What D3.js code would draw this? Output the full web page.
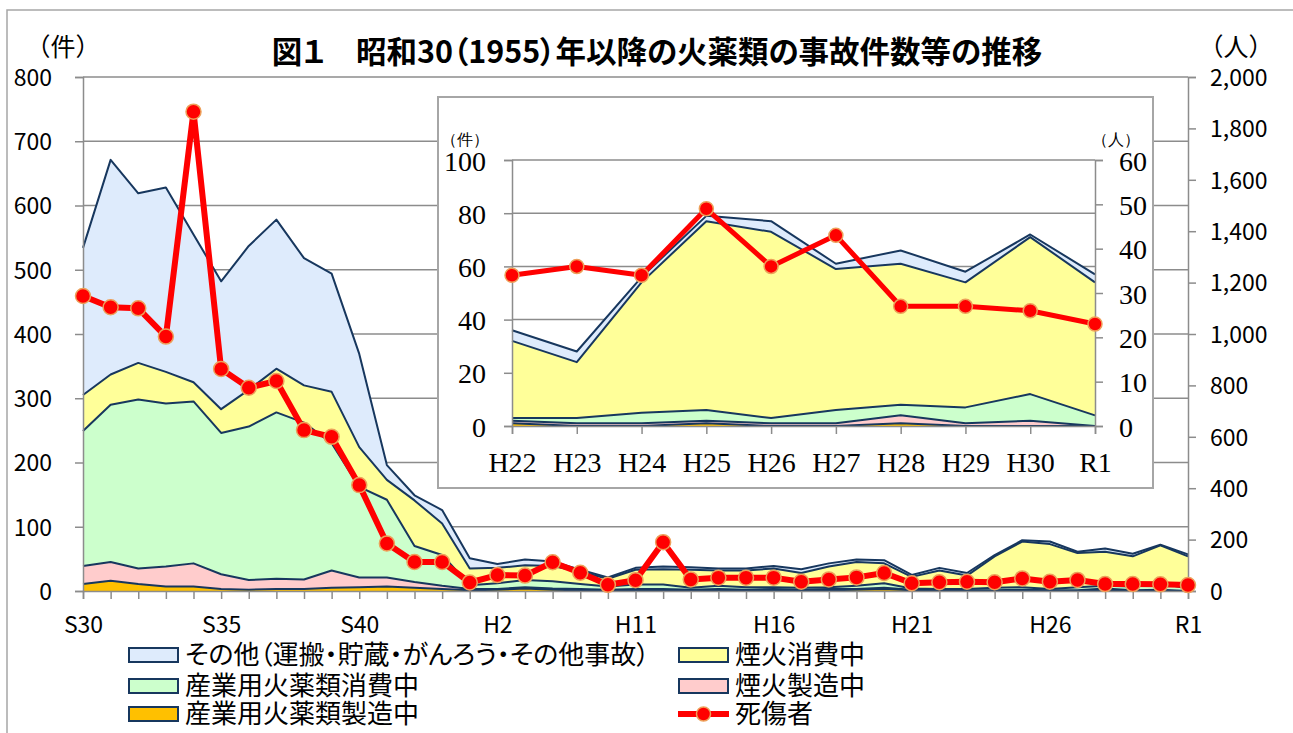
<!DOCTYPE html>
<html lang="ja">
<head>
<meta charset="UTF-8">
<title>火薬類の事故件数等の推移</title>
<script src="https://cdn.jsdelivr.net/npm/d3@7/dist/d3.min.js"></script>
<style>
  body{margin:0;background:#fff}
  svg{display:block}
  text{font-family:"Noto Sans CJK JP","Noto Sans",sans-serif}
  .inset text{font-family:"Liberation Serif","DejaVu Serif",serif}
  .palt{font-feature-settings:"palt"}
</style>
</head>
<body>
<div class="chart"></div>
<script>
// 年（41区分）
const categories=['S30','S31','S32','S33','S34','S35','S36','S37','S38','S39','S40',
  'S45','S50','S55','S60','H2','H7','H8','H9','H10',
  'H11','H12','H13','H14','H15','H16','H17','H18','H19','H20',
  'H21','H22','H23','H24','H25','H26','H27','H28','H29','H30','R1']
const tickLabels=['S30','S35','S40','H2','H11','H16','H21','H26','R1']

// 事故件数（件）
const manuf=[11,16,11,7,7,3,2,3,3,5,6,7,5,3, 1,2,4,2,1,1,1,1,1,1,1,1,1,1,2,3,1, 1,0,0,1,0,0,1,0,0,0]
const fwManuf=[28,29,24,31,36,23,15,16,15,27,15,14,9,5, 2,1,2,2,2,1,2,2,1,2,1,2,1,2,1,2,1, 1,1,1,1,1,1,3,1,2,0]
const indUse=[210,245,263,254,252,220,239,259,244,198,141,121,56,48, 6,9,11,11,8,5,7,7,3,5,4,3,3,3,5,7,2, 1,2,4,4,2,5,4,6,10,4]
const fwUse=[56,47,57,49,30,37,57,68,58,80,62,31,71,49, 26,24,23,24,19,12,23,24,28,24,26,29,23,32,37,31,18, 29,21,49,71,70,53,53,47,59,50]
const other=[229,334,264,287,230,199,224,232,198,184,145,23,8,21, 16,6,9,7,3,2,3,4,4,3,3,4,6,5,4,5,3, 4,4,2,2,4,2,5,4,1,3]
// 死傷者（人）
const casualties=[1148,1104,1100,990,1865,864,791,817,626,600,412,185,113,113, 33,62,60,112,71,24,42,190,45,52,52,52,36,45,53,70,30, 34,36,34,49,36,43,27,27,26,23]

const insetStart=31  // H22〜R1

const keys=['manuf','fwManuf','indUse','fwUse','other']
const colors={manuf:'#ffc000',fwManuf:'#ffcccc',indUse:'#ccffcc',fwUse:'#ffff99',other:'#deebfc'}
const names={other:'その他（運搬・貯蔵・がんろう・その他事故）',fwUse:'煙火消費中',indUse:'産業用火薬類消費中',
  fwManuf:'煙火製造中',manuf:'産業用火薬類製造中'}
const navy='#17375e', gray='#8c8c8c'

const table=categories.map((c,i)=>({cat:c,manuf:manuf[i],fwManuf:fwManuf[i],indUse:indUse[i],
  fwUse:fwUse[i],other:other[i],cas:casualties[i]}))

const W=1293,H=733
const svg=d3.select('.chart').append('svg').attr('width',W).attr('height',H)
svg.append('rect').attr('width',W).attr('height',H).attr('fill','#fff')
// 外枠
svg.append('rect').attr('x',7).attr('y',10).attr('width',1320).attr('height',760)
  .attr('fill','none').attr('stroke','#a6a6a6').attr('stroke-width',1.5)

function panel(g,rows,o){
  const x=d3.scalePoint().domain(rows.map(d=>d.cat)).range([o.x0,o.x1])
  const yL=d3.scaleLinear().domain([0,o.maxL]).range([o.y0,o.y1])
  const yR=d3.scaleLinear().domain([0,o.maxR]).range([o.y0,o.y1])
  // grid
  g.append('g').selectAll('line').data(d3.range(o.stepL,o.maxL+1,o.stepL)).join('line')
    .attr('x1',o.x0).attr('x2',o.x1).attr('y1',d=>yL(d)).attr('y2',d=>yL(d))
    .attr('stroke',gray).attr('stroke-width',1.5)
  // stacked areas
  const series=d3.stack().keys(keys)(rows)
  const area=d3.area().x(d=>x(d.data.cat)).y0(d=>yL(d[0])).y1(d=>yL(d[1]))
  const top=d3.line().x(d=>x(d.data.cat)).y(d=>yL(d[1]))
  g.append('g').selectAll('path').data(series).join('path')
    .attr('d',area).attr('fill',d=>colors[d.key])
  g.append('g').selectAll('path').data(series).join('path')
    .attr('d',top).attr('fill','none').attr('stroke',navy).attr('stroke-width',2).attr('stroke-linejoin','round')
  // axes
  const ax=d3.axisBottom(x).tickSize(o.tick).tickFormat(d=>o.labelAll||tickLabels.includes(d)?d:'')
  const gx=g.append('g').attr('transform',`translate(0,${o.y0})`).call(ax)
  const gl=g.append('g').attr('transform',`translate(${o.x0},0)`)
    .call(d3.axisLeft(yL).tickValues(d3.range(0,o.maxL+1,o.stepL)).tickSize(o.tick).tickFormat(o.fmtL))
  const gr=g.append('g').attr('transform',`translate(${o.x1},0)`)
    .call(d3.axisRight(yR).tickValues(d3.range(0,o.maxR+1,o.stepR)).tickSize(o.tick).tickFormat(o.fmtR))
  ;[gx,gl,gr].forEach(a=>{
    a.selectAll('path,line').attr('stroke',gray).attr('stroke-width',1.5)
    a.selectAll('text').attr('fill','#000').style('font-size',o.fs+'px')
  })
  gx.selectAll('text').attr('dy',null).attr('y',o.xLabelY)
  gl.selectAll('text').attr('dy','0.36em').attr('x',-o.lPad)
  gr.selectAll('text').attr('dy','0.36em').attr('x',o.rPad)
  // casualties
  g.append('path').datum(rows)
    .attr('d',d3.line().x(d=>x(d.cat)).y(d=>yR(d.cas)))
    .attr('fill','none').attr('stroke','#ff0000').attr('stroke-width',o.lw).attr('stroke-linejoin','round')
  g.append('g').selectAll('circle').data(rows).join('circle')
    .attr('cx',d=>x(d.cat)).attr('cy',d=>yR(d.cas)).attr('r',o.r)
    .attr('fill','#ff0000').attr('stroke','#eda05a').attr('stroke-width',1.5)
}

// main chart
const main=svg.append('g')
panel(main,table,{x0:83,x1:1188,y0:591,y1:77,maxL:800,stepL:100,maxR:2000,stepR:200,
  tick:8,fs:23,xLabelY:42,lPad:31,rPad:22,lw:6,r:7.5,fmtL:d3.format('d'),fmtR:d3.format(',')})

svg.append('text').attr('x',63).attr('y',56).attr('text-anchor','middle').style('font-size','25px').text('（件）')
svg.append('text').attr('x',1236).attr('y',56).attr('text-anchor','middle').style('font-size','25px').text('（人）')
svg.append('text').attr('class','palt').attr('x',657).attr('y',63).attr('text-anchor','middle')
  .style('font-size','30.5px').style('font-weight','bold').text('図１　昭和30（1955）年以降の火薬類の事故件数等の推移')

// inset chart
const inset=svg.append('g').attr('class','inset')
inset.append('rect').attr('x',438).attr('y',97).attr('width',715).attr('height',391)
  .attr('fill','#fff').attr('stroke','#a6a6a6').attr('stroke-width',2)
panel(inset,table.slice(insetStart),{x0:512,x1:1095,y0:426,y1:160,maxL:100,stepL:20,maxR:60,stepR:10,
  tick:8,fs:28,xLabelY:46,lPad:26,rPad:24,lw:5,r:7,labelAll:true,fmtL:d3.format('d'),fmtR:d3.format('d')})
inset.append('text').attr('x',465).attr('y',145).attr('text-anchor','middle').style('font-size','16px').text('（件）')
inset.append('text').attr('x',1116).attr('y',145).attr('text-anchor','middle').style('font-size','16px').text('（人）')

// legend
const legend=svg.append('g')
const legItems=[
  {key:'other',x:128,y:655},{key:'indUse',x:128,y:686},{key:'manuf',x:128,y:714},
  {key:'fwUse',x:678,y:655},{key:'fwManuf',x:678,y:686},{key:'cas',x:678,y:714}]
legItems.forEach(it=>{
  const g=legend.append('g').attr('transform',`translate(${it.x},${it.y})`)
  if(it.key==='cas'){
    g.append('line').attr('x1',0).attr('x2',51).attr('stroke','#ff0000').attr('stroke-width',6)
    g.append('circle').attr('cx',25.5).attr('r',7).attr('fill','#ff0000').attr('stroke','#eda05a').attr('stroke-width',1.5)
  }else{
    g.append('rect').attr('x',1).attr('y',-7).attr('width',49).attr('height',14)
      .attr('fill',colors[it.key]).attr('stroke',navy).attr('stroke-width',2)
  }
  g.append('text').attr('class','palt').attr('x',57).attr('dy','0.36em').style('font-size','26px')
    .text(it.key==='cas'?'死傷者':names[it.key])
})
</script>
</body>
</html>
